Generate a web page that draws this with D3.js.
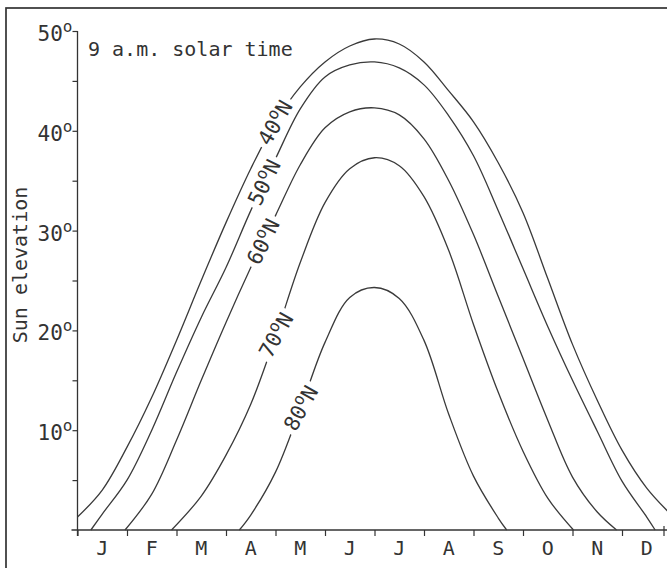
<!DOCTYPE html>
<html>
<head>
<meta charset="utf-8">
<script src="https://cdn.jsdelivr.net/npm/d3@7"></script>
<style>
body { margin: 0; background: #fff; }
svg { display: block; font-family: "DejaVu Sans Mono", monospace; }
.axis line { stroke: #333; stroke-width: 1.2px; }
</style>
</head>
<body>
<div id="canvas"></div>
<script>
// month initials, y ticks
var months = ["J", "F", "M", "A", "M", "J", "J", "A", "S", "O", "N", "D"];
var yTicks = [10, 20, 30, 40, 50];
var yMinor = [5, 15, 25, 35, 45];
var latitudes = ["40", "50", "60", "70", "80"];

// [month since Jan 1, sun elevation in degrees]
var lat40 = [[0, 1.3], [0.5, 4.0], [1.0, 8.3], [1.5, 13.3], [2.0, 19.0], [2.5, 25.0], [3.0, 30.8], [3.5, 36.2], [4.0, 40.9], [4.5, 44.4], [5.0, 46.9], [5.5, 48.5], [6.0, 49.2], [6.5, 48.7], [7.0, 46.9], [7.5, 44.0], [8.0, 40.9], [8.5, 36.8], [9.0, 31.8], [9.5, 25.2], [10.0, 18.6], [10.5, 13.0], [11.0, 8.0], [11.5, 4.2], [12.0, 1.5]];
var lat50 = [[0.27, 0], [0.5, 1.6], [1.0, 5.0], [1.5, 10.0], [2.0, 15.8], [2.5, 21.3], [3.0, 26.3], [3.5, 32.0], [4.0, 37.2], [4.5, 42.2], [5.0, 45.4], [5.5, 46.6], [6.0, 46.9], [6.5, 46.3], [7.0, 44.6], [7.5, 41.5], [8.0, 37.5], [8.5, 32.0], [9.0, 26.2], [9.5, 20.4], [10.0, 15.0], [10.5, 9.9], [11.0, 4.9], [11.5, 1.3], [11.67, 0]];
var lat60 = [[0.96, 0], [1.5, 3.6], [2.0, 9.0], [2.5, 15.0], [3.0, 20.8], [3.5, 26.3], [4.0, 31.5], [4.5, 36.6], [5.0, 40.3], [5.5, 41.9], [6.0, 42.3], [6.5, 41.6], [7.0, 39.2], [7.5, 35.0], [8.0, 29.6], [8.5, 23.4], [9.0, 17.2], [9.5, 11.0], [10.0, 5.3], [10.5, 1.8], [10.89, 0]];
var lat70 = [[1.9, 0], [2.5, 3.4], [3.0, 7.5], [3.5, 12.6], [4.0, 19.4], [4.5, 26.8], [5.0, 32.8], [5.5, 36.2], [6.0, 37.3], [6.5, 36.5], [7.0, 33.4], [7.5, 28.0], [8.0, 20.6], [8.5, 13.8], [9.0, 7.9], [9.5, 3.2], [10.02, 0]];
var lat80 = [[3.27, 0], [3.5, 1.5], [4.0, 5.8], [4.5, 12.1], [5.0, 18.8], [5.5, 23.3], [6.0, 24.3], [6.5, 23.2], [7.0, 19.0], [7.5, 11.6], [8.0, 5.4], [8.5, 1.2], [8.67, 0]];
var series = [lat40, lat50, lat60, lat70, lat80];

// where along each curve (in months) its label sits, and the label's tilt
var labelMonth = [3.99, 3.77, 3.75, 4.01, 4.51];
var labelTilt = [-60, -64, -64, -61, -61];

var w = 667, h = 568;

var paper = d3.select("#canvas")
	.append("svg")
	.attr("width", w)
	.attr("height", h);

// outer frame
paper.append("rect")
	.attr("x", 6)
	.attr("y", 8)
	.attr("width", w)
	.attr("height", h)
	.style("fill", "none")
	.style("stroke", "#333")
	.style("stroke-width", "1.7px");

var x = d3.scaleLinear().domain([0, 12]).range([77.5, 671.5]);
var y = d3.scaleLinear().domain([0, 50]).range([530, 31]);

// y axis
paper.append("g")
	.attr("class", "axis")
	.attr("transform", "translate(" + x(0) + ",0)")
	.call(d3.axisLeft(y).tickValues(yTicks.concat(yMinor)).tickSize(5).tickFormat(""))
	.call(function (g) { g.select(".domain").remove(); });

paper.append("line")
	.attr("x1", x(0)).attr("x2", x(0))
	.attr("y1", y(0) + 6).attr("y2", y(50))
	.style("stroke", "#333").style("stroke-width", "1.3px");

var yLab = paper.append("g")
	.selectAll("text")
	.data(yTicks)
	.enter()
	.append("text")
	.attr("x", x(0) - 5)
	.attr("y", function (d) { return y(d) + 10; })
	.attr("text-anchor", "end")
	.style("font-size", "21px")
	.style("fill", "#333");
yLab.append("tspan").text(function (d) { return d; });
yLab.append("tspan").attr("dy", -9).style("font-size", "16px").text("o");

// x axis
paper.append("g")
	.attr("class", "axis")
	.attr("transform", "translate(0," + y(0) + ")")
	.call(d3.axisBottom(x).tickValues(d3.range(0, 12)).tickSize(6).tickFormat(""))
	.call(function (g) { g.select(".domain").remove(); });

paper.append("line")
	.attr("x1", x(0) - 6).attr("x2", w)
	.attr("y1", y(0)).attr("y2", y(0))
	.style("stroke", "#333").style("stroke-width", "1.3px");

// end tick where the axis runs off
paper.append("line")
	.attr("x1", w - 3).attr("x2", w - 3)
	.attr("y1", y(0) - 4).attr("y2", y(0) + 6)
	.style("stroke", "#333").style("stroke-width", "1.2px");

paper.append("g")
	.selectAll("text")
	.data(months)
	.enter()
	.append("text")
	.attr("x", function (d, i) { return x(i + 0.5); })
	.attr("y", 555)
	.attr("text-anchor", "middle")
	.style("font-size", "20px")
	.style("fill", "#333")
	.text(function (d) { return d; });

// axis title and caption
paper.append("text")
	.attr("transform", "translate(27,265) rotate(-90)")
	.attr("text-anchor", "middle")
	.style("font-size", "20px")
	.style("fill", "#333")
	.text("Sun elevation");

paper.append("text")
	.attr("x", 88)
	.attr("y", 56)
	.style("font-size", "20px")
	.style("fill", "#333")
	.text("9 a.m. solar time");

// curves
var line = d3.line()
	.x(function (d) { return x(d[0]); })
	.y(function (d) { return y(d[1]); })
	.curve(d3.curveCatmullRom.alpha(0.5));

var paths = paper.append("g")
	.selectAll("path")
	.data(series)
	.enter()
	.append("path")
	.attr("d", line)
	.style("fill", "none")
	.style("stroke", "#3a3a3a")
	.style("stroke-width", "1.3px");

function lengthAtX(node, px) {
	var lo = 0, hi = node.getTotalLength();
	while (hi - lo > 0.25) {
		var mid = (lo + hi) / 2;
		if (node.getPointAtLength(mid).x < px) lo = mid; else hi = mid;
	}
	return lo;
}

// rotated labels that break the curves
paths.each(function (d, i) {
	var p = this.getPointAtLength(lengthAtX(this, x(labelMonth[i])));

	var g = paper.append("g")
		.attr("transform", "translate(" + p.x + "," + p.y + ") rotate(" + labelTilt[i] + ")");
	var bg = g.append("rect").style("fill", "#fff");
	var t = g.append("text")
		.attr("text-anchor", "middle")
		.attr("y", 7.5)
		.style("font-size", "21px")
		.style("fill", "#333");
	t.append("tspan").text(latitudes[i]);
	t.append("tspan").attr("dy", -8).style("font-size", "16px").text("o");
	t.append("tspan").attr("dy", 8).text("N");

	var bb = t.node().getBBox();
	bg.attr("x", bb.x - 4)
		.attr("y", -8)
		.attr("width", bb.width + 8)
		.attr("height", 16);
});
</script>
</body>
</html>
